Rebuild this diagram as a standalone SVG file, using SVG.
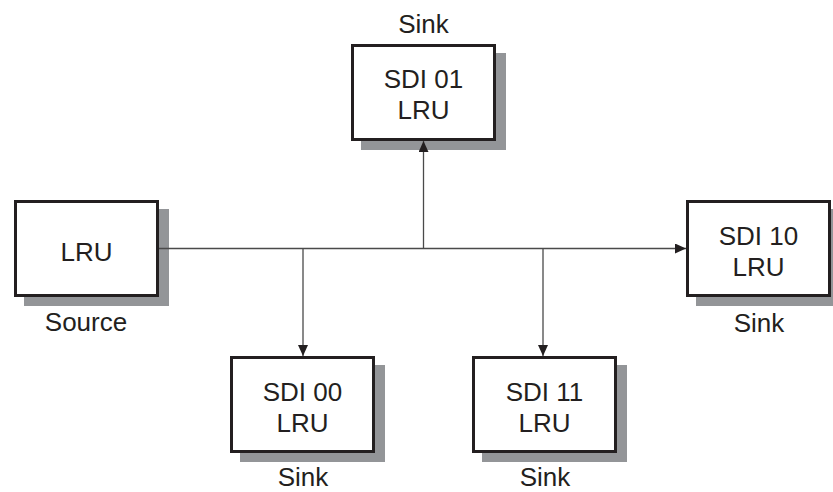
<svg xmlns="http://www.w3.org/2000/svg" width="833" height="492" viewBox="0 0 833 492">
<style>
  .shadow { fill: #939598; }
  .box { fill: #ffffff; stroke: #231f20; stroke-width: 3; }
  .t { font-family: "Liberation Sans", Arial, sans-serif; font-size: 26px; fill: #231f20; text-anchor: middle; }
  .conn { stroke: #4a4a4a; stroke-width: 1.3; fill: none; }
</style>
<defs>
  <marker id="arrow" markerUnits="userSpaceOnUse" markerWidth="11" markerHeight="10" refX="11" refY="5" orient="auto">
    <path d="M0,0 L11,5 L0,10 z" fill="#231f20"/>
  </marker>
</defs>
<rect width="833" height="492" fill="#ffffff"/>

<g id="source">
  <rect class="shadow" x="24" y="209" width="145" height="97"/>
  <rect class="box" x="15.5" y="201.5" width="142" height="94"/>
  <text class="t" x="86.5" y="261">LRU</text>
  <text class="t" x="86" y="331">Source</text>
</g>

<g id="sdi01">
  <rect class="shadow" x="361" y="53" width="145" height="97"/>
  <rect class="box" x="352.5" y="45.5" width="142" height="94"/>
  <text class="t" x="423.5" y="88">SDI 01</text>
  <text class="t" x="423.5" y="119">LRU</text>
  <text class="t" x="423.5" y="33">Sink</text>
</g>

<g id="sdi10">
  <rect class="shadow" x="696" y="209" width="145" height="97"/>
  <rect class="box" x="687.5" y="201.5" width="142" height="94"/>
  <text class="t" x="758.5" y="245">SDI 10</text>
  <text class="t" x="758.5" y="276">LRU</text>
  <text class="t" x="759" y="332">Sink</text>
</g>

<g id="sdi00">
  <rect class="shadow" x="240" y="365" width="145" height="97"/>
  <rect class="box" x="231.5" y="357.5" width="142" height="94"/>
  <text class="t" x="302.5" y="401">SDI 00</text>
  <text class="t" x="302.5" y="432">LRU</text>
  <text class="t" x="303" y="486">Sink</text>
</g>

<g id="sdi11">
  <rect class="shadow" x="482" y="365" width="145" height="97"/>
  <rect class="box" x="473.5" y="357.5" width="142" height="94"/>
  <text class="t" x="544.5" y="401">SDI 11</text>
  <text class="t" x="544.5" y="432">LRU</text>
  <text class="t" x="545" y="486">Sink</text>
</g>

<g id="connectors">
  <line class="conn" x1="159" y1="248.5" x2="686" y2="248.5" marker-end="url(#arrow)"/>
  <line class="conn" x1="423.5" y1="248.5" x2="423.5" y2="141" marker-end="url(#arrow)"/>
  <line class="conn" x1="303" y1="248.5" x2="303" y2="356" marker-end="url(#arrow)"/>
  <line class="conn" x1="543" y1="248.5" x2="543" y2="356" marker-end="url(#arrow)"/>
</g>
</svg>
